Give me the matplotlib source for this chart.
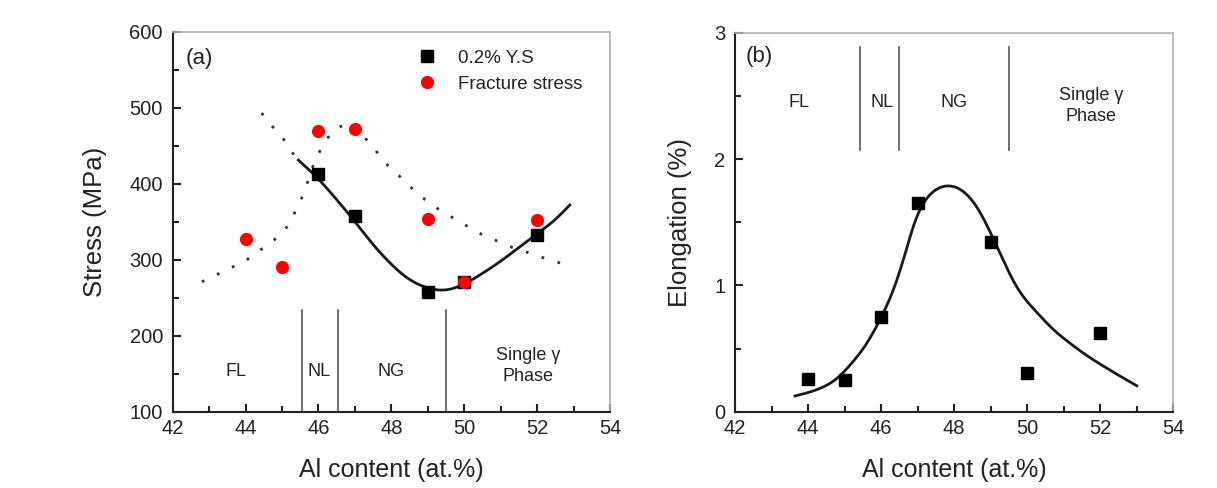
import matplotlib
matplotlib.use("Agg")
import matplotlib.pyplot as plt
import numpy as np
from matplotlib.ticker import MultipleLocator

plt.rcParams["font.family"] = ["Liberation Sans", "DejaVu Sans"]

# (a) stress data
al_ys = [46, 47, 49, 50, 52]
ys = [413, 357, 257, 271, 332]
al_fs = [44, 45, 46, 47, 49, 50, 52]
fs = [327, 290, 469, 472, 353, 271, 352]

# fitted line for yield stress
ys_fit_x = [45.45, 46.0, 46.5, 47.0, 47.5, 48.0, 48.5, 49.0, 49.4, 50.0,
            50.5, 51.0, 51.5, 52.0, 52.5, 52.9]
ys_fit_y = [431, 406, 379, 350, 320, 294, 274, 263, 260, 268,
            282, 298, 316, 334, 353, 372]
ys_dot_x = [44.44, 44.72, 44.99, 45.22, 45.45]
ys_dot_y = [493, 476, 462, 445, 431]

# dotted trend for fracture stress
fs_fit_x = [42.8, 43.11, 43.76, 44.1, 44.41, 44.74, 45.03, 45.27, 45.4, 45.54,
            45.66, 45.89, 46.04, 46.22, 46.5, 46.82, 46.94, 47.21, 47.49, 47.73,
            48.05, 48.39, 48.7, 49.01, 49.34, 49.66, 49.98, 50.3, 50.62, 50.94,
            51.26, 51.58, 51.9, 52.22, 52.54, 52.86]
fs_fit_y = [271, 278, 293, 302, 313, 324, 338, 353, 368, 381,
            396, 428, 443, 458, 472, 479, 479, 464, 449, 433,
            418, 402, 388, 376, 365, 356, 347, 338, 330, 324,
            317, 313, 306, 302, 297, 293]

# (b) elongation data
al_el = [44, 45, 46, 47, 49, 50, 52]
elong = [0.26, 0.25, 0.75, 1.655, 1.34, 0.31, 0.625]
el_fit_x = [43.64, 44.33, 44.79, 45.24, 45.51, 46.0, 46.34, 46.66, 46.88, 47.16,
            47.43, 47.84, 48.25, 48.61, 48.98, 49.34, 49.71, 50.25, 50.7, 51.18,
            51.63, 52.09, 52.55, 53.0]
el_fit_y = [0.124, 0.185, 0.264, 0.40, 0.50, 0.747, 0.97, 1.254, 1.465, 1.65,
            1.742, 1.787, 1.742, 1.623, 1.425, 1.2, 0.99, 0.79, 0.655, 0.54,
            0.445, 0.36, 0.28, 0.205]

phase_bounds_a = [45.55, 46.53, 49.5]
phase_bounds_b = [45.42, 46.49, 49.49]
phase_names = ["FL", "NL", "NG", "Single \u03b3\nPhase"]
phase_x = [43.75, 46.03, 48.0, 51.75]

TXT = "#222222"
DOT = (0, (1, 5))


def smooth(xs, ys, n=300):
    # natural cubic spline through the read-off curve points (drawing only)
    x = np.asarray(xs, float)
    y = np.asarray(ys, float)
    h = np.diff(x)
    m = len(x)
    A = np.zeros((m, m))
    b = np.zeros(m)
    A[0, 0] = A[-1, -1] = 1
    for i in range(1, m - 1):
        A[i, i - 1] = h[i - 1]
        A[i, i] = 2 * (h[i - 1] + h[i])
        A[i, i + 1] = h[i]
        b[i] = 6 * ((y[i + 1] - y[i]) / h[i] - (y[i] - y[i - 1]) / h[i - 1])
    M = np.linalg.solve(A, b)
    xx = np.linspace(x[0], x[-1], n)
    k = np.clip(np.searchsorted(x, xx) - 1, 0, m - 2)
    t0 = x[k + 1] - xx
    t1 = xx - x[k]
    hk = h[k]
    yy = (M[k] * t0 ** 3 / (6 * hk) + M[k + 1] * t1 ** 3 / (6 * hk)
          + (y[k] / hk - M[k] * hk / 6) * t0 + (y[k + 1] / hk - M[k + 1] * hk / 6) * t1)
    return xx, yy


def style_axes(ax):
    for side in ["top", "right"]:
        ax.spines[side].set_color("#b0b0b0")
        ax.spines[side].set_linewidth(1.2)
    for side in ["left", "bottom"]:
        ax.spines[side].set_color("#222222")
        ax.spines[side].set_linewidth(1.5)
    ax.tick_params(which="both", direction="in", top=False, right=False,
                   labelsize=14.5, colors=TXT, width=1.5)
    ax.tick_params(which="major", length=6)
    ax.tick_params(which="minor", length=4)
    ax.tick_params(axis="x", pad=5.5)
    ax.tick_params(axis="y", pad=7)
    ax.set_xlim(42, 54)
    ax.xaxis.set_major_locator(MultipleLocator(2))
    ax.xaxis.set_minor_locator(MultipleLocator(1))
    ax.set_xlabel("Al content (at.%)", fontsize=18, color=TXT, labelpad=14)


fig = plt.figure(figsize=(12.17, 4.88), dpi=100)
ax1 = fig.add_axes([0.1419, 0.1564, 0.3593, 0.7787])
ax2 = fig.add_axes([0.604, 0.1564, 0.3601, 0.7766])

# panel (a)
style_axes(ax1)
ax1.set_ylim(100, 600)
ax1.yaxis.set_major_locator(MultipleLocator(100))
ax1.yaxis.set_minor_locator(MultipleLocator(50))
ax1.set_ylabel("Stress (MPa)", fontsize=18.5, color=TXT, labelpad=16)

ax1.plot(*smooth(fs_fit_x, fs_fit_y), color="#333333", lw=2, ls=DOT)
ax1.plot(*smooth(ys_dot_x, ys_dot_y, 40), color="#333333", lw=2, ls=DOT)
ax1.plot(*smooth(ys_fit_x, ys_fit_y), color="#1a1a1a", lw=2)
ax1.plot(al_ys, ys, "s", color="black", ms=8, label="0.2% Y.S")
ax1.plot(al_fs, fs, "o", color="#ff0000", ms=9.5, mec="none",
         label="Fracture stress")

for xb in phase_bounds_a:
    ax1.plot([xb, xb], [100, 234], color="#555555", lw=1.2)
for name, xp in zip(phase_names, phase_x):
    ax1.text(xp, 153 if "\n" not in name else 160, name, ha="center",
             va="center", fontsize=13, color=TXT, linespacing=1.3)
ax1.text(42.35, 565, "(a)", fontsize=16, color=TXT, va="center")
ax1.legend(loc="upper left", bbox_to_anchor=(0.56, 0.952), frameon=False,
           fontsize=13.5, handlelength=1.0, handletextpad=1.15,
           labelspacing=0.45, borderpad=0, borderaxespad=0,
           labelcolor=TXT)

# panel (b)
style_axes(ax2)
ax2.set_ylim(0, 3)
ax2.yaxis.set_major_locator(MultipleLocator(1))
ax2.yaxis.set_minor_locator(MultipleLocator(0.5))
ax2.set_ylabel("Elongation (%)", fontsize=18.5, color=TXT, labelpad=16)

ax2.plot(*smooth(el_fit_x, el_fit_y), color="#1a1a1a", lw=2)
ax2.plot(al_el, elong, "s", color="black", ms=8)

for xb in phase_bounds_b:
    ax2.plot([xb, xb], [2.07, 2.89], color="#555555", lw=1.2)
for name, xp in zip(phase_names, phase_x):
    ax2.text(xp, 2.45 if "\n" not in name else 2.42, name, ha="center",
             va="center", fontsize=13, color=TXT, linespacing=1.3)
ax2.text(42.3, 2.81, "(b)", fontsize=16, color=TXT, va="center")

fig.savefig("out.png", dpi=100)
plt.close(fig)
